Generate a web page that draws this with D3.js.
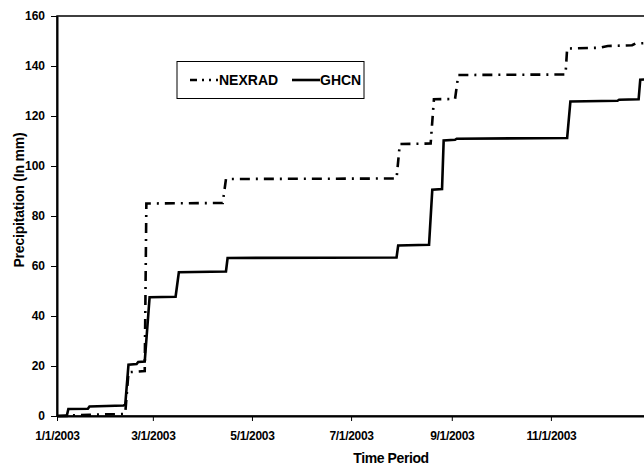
<!DOCTYPE html>
<html>
<head>
<meta charset="utf-8">
<script src="https://cdn.jsdelivr.net/npm/d3@7"></script>
<style>
    body { margin: 0; background: #fff; }
    svg { display: block; font-family: "Liberation Sans", Arial, sans-serif; font-weight: bold; }
</style>
</head>
<body>
<svg id="precip"></svg>
<script>
// Cumulative precipitation (date, mm)
const ghcnDates = ["2003-01-01", "2003-01-07", "2003-01-08", "2003-01-20", "2003-01-21", "2003-02-11",
    "2003-02-12", "2003-02-14", "2003-02-19", "2003-02-20", "2003-02-24", "2003-02-27", "2003-03-15",
    "2003-03-17", "2003-04-15", "2003-04-16", "2003-07-29", "2003-07-30", "2003-08-18", "2003-08-20",
    "2003-08-26", "2003-08-27", "2003-09-03", "2003-09-04", "2003-11-11", "2003-11-13", "2003-12-12",
    "2003-12-13", "2003-12-25", "2003-12-26", "2004-01-01"];
const ghcnValues = [0, 0, 2.8, 2.9, 3.8, 4.2,
    4.5, 20.5, 20.8, 21.6, 21.8, 47.5, 47.7,
    57.5, 57.8, 63.2, 63.4, 68.2, 68.5, 90.5,
    90.8, 110.2, 110.5, 110.9, 111.2, 125.8, 126.1,
    126.5, 126.7, 134.5, 134.8];

const nexradDates = ["2003-01-01", "2003-01-21", "2003-02-11", "2003-02-12", "2003-02-14", "2003-02-24",
    "2003-02-25", "2003-04-13", "2003-04-15", "2003-07-29", "2003-07-31", "2003-08-19", "2003-08-21",
    "2003-09-03", "2003-09-05", "2003-11-10", "2003-11-11", "2003-12-01", "2003-12-06", "2003-12-21",
    "2003-12-23", "2004-01-01"];
const nexradValues = [0, 0.5, 0.8, 1, 17.5, 18,
    85, 85.2, 94.8, 95, 108.8, 109, 126.7,
    126.8, 136.4, 136.6, 147, 147.3, 148, 148.3,
    149, 149.2];

const yTicks = [0, 20, 40, 60, 80, 100, 120, 140, 160];
const xTickDates = ["2003-01-01", "2003-03-01", "2003-05-01", "2003-07-01", "2003-09-01", "2003-11-01"];

const parse = d3.timeParse("%Y-%m-%d");
const ghcn = ghcnDates.map((d, i) => ({ date: parse(d), value: ghcnValues[i] }));
const nexrad = nexradDates.map((d, i) => ({ date: parse(d), value: nexradValues[i] }));

const width = 644;
const height = 466;
// plot area edges
const plotLeft = 57, plotRight = 650, plotTop = 16, plotBottom = 416;

const xScale = d3.scaleTime()
    .domain([parse("2003-01-01"), parse("2004-01-01")])
    .range([plotLeft, plotRight]);

const yScale = d3.scaleLinear()
    .domain([0, 160])
    .range([plotBottom, plotTop]);

const svg = d3.select("#precip")
    .attr("width", width)
    .attr("height", height);

// plot area frame (right side falls outside the picture)
svg.append("rect")
    .attr("x", plotLeft)
    .attr("y", plotTop)
    .attr("width", plotRight - plotLeft)
    .attr("height", plotBottom - plotTop)
    .attr("fill", "none")
    .attr("stroke", "#000")
    .attr("stroke-width", 1.5);

const line = d3.line()
    .x(d => xScale(d.date))
    .y(d => yScale(d.value));

svg.append("path")
    .datum(nexrad)
    .attr("d", line)
    .attr("fill", "none")
    .attr("stroke", "#000")
    .attr("stroke-width", 2.6)
    .attr("stroke-dasharray", "10,6,2,6");

svg.append("path")
    .datum(ghcn)
    .attr("d", line)
    .attr("fill", "none")
    .attr("stroke", "#000")
    .attr("stroke-width", 2.6);

// axes
const xAxis = d3.axisBottom(xScale)
    .tickValues(xTickDates.map(parse))
    .tickFormat(d3.timeFormat("%-m/%-d/%Y"))
    .tickSize(5)
    .tickSizeOuter(0);

const yAxis = d3.axisLeft(yScale)
    .tickValues(yTicks)
    .tickSize(6)
    .tickSizeOuter(0);

const gx = svg.append("g")
    .attr("transform", `translate(0, ${plotBottom})`)
    .call(xAxis);
gx.select(".domain").attr("stroke-width", 2);
gx.selectAll("text")
    .attr("dy", null)
    .attr("y", 24)
    .style("font-size", "12px")
    .style("font-family", "Liberation Sans, Arial, sans-serif")
    .style("font-weight", "bold")
    .style("letter-spacing", "-0.3px");

const gy = svg.append("g")
    .attr("transform", `translate(${plotLeft}, 0)`)
    .call(yAxis);
gy.select(".domain").attr("stroke-width", 2);
gy.selectAll("text")
    .attr("x", -12)
    .style("font-size", "12px")
    .style("font-family", "Liberation Sans, Arial, sans-serif")
    .style("font-weight", "bold");

// axis titles
svg.append("text")
    .attr("x", 391)
    .attr("y", 463)
    .style("text-anchor", "middle")
    .style("font-size", "14px")
    .style("letter-spacing", "-0.4px")
    .text("Time Period");

svg.append("text")
    .attr("transform", "rotate(-90)")
    .attr("x", -200)
    .attr("y", 24)
    .style("text-anchor", "middle")
    .style("font-size", "14px")
    .style("letter-spacing", "-0.2px")
    .text("Precipitation (In mm)");

// legend
const legend = svg.append("g");
legend.append("rect")
    .attr("x", 177)
    .attr("y", 61.5)
    .attr("width", 187)
    .attr("height", 37)
    .attr("fill", "#fff")
    .attr("stroke", "#000")
    .attr("stroke-width", 1);

legend.append("line")
    .attr("x1", 190).attr("x2", 218)
    .attr("y1", 80).attr("y2", 80)
    .attr("stroke", "#000")
    .attr("stroke-width", 2.6)
    .attr("stroke-dasharray", "7,5,2,5,2,5");
legend.append("text")
    .attr("x", 219)
    .attr("y", 85)
    .style("font-size", "14px")
    .text("NEXRAD");

legend.append("line")
    .attr("x1", 292).attr("x2", 320)
    .attr("y1", 80).attr("y2", 80)
    .attr("stroke", "#000")
    .attr("stroke-width", 2.6);
legend.append("text")
    .attr("x", 320)
    .attr("y", 85)
    .style("font-size", "14px")
    .text("GHCN");
</script>
</body>
</html>
